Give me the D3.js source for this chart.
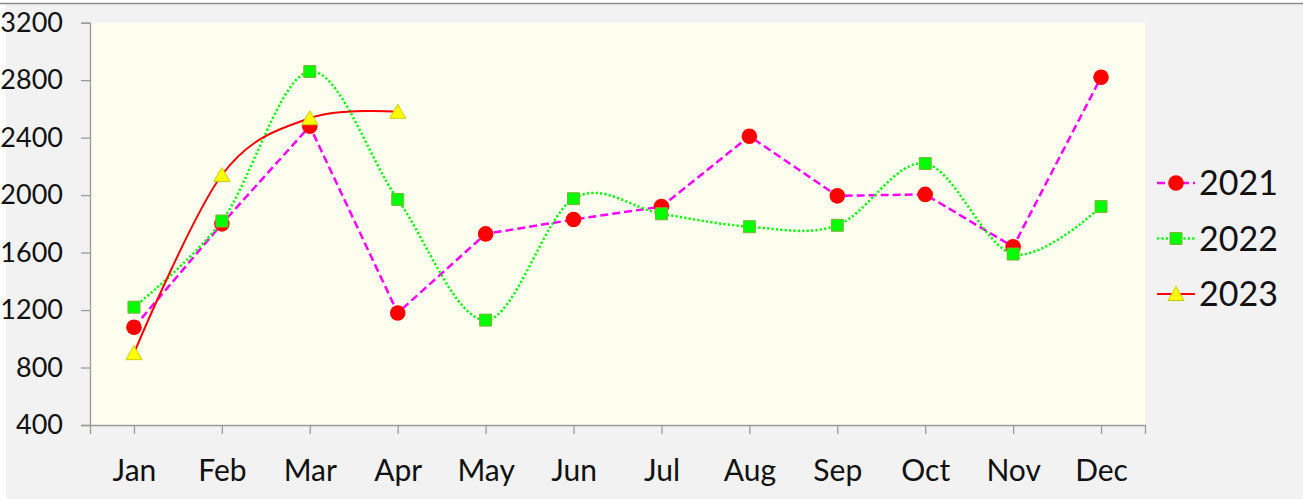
<!DOCTYPE html>
<html>
<head>
<meta charset="utf-8">
<script src="https://cdn.jsdelivr.net/npm/d3@7"></script>
<style>
  body { margin: 0; background: #fff; }
  text { font-family: Lato, "Open Sans", sans-serif; fill: #111; }
</style>
</head>
<body>
<svg id="chart" width="1303" height="499"></svg>
<script>
var months = ["Jan", "Feb", "Mar", "Apr", "May", "Jun", "Jul", "Aug", "Sep", "Oct", "Nov", "Dec"];
var yTicks = [400, 800, 1200, 1600, 2000, 2400, 2800, 3200];
var seriesNames = ["2021", "2022", "2023"];
var values2021 = [1080, 1800, 2480, 1180, 1730, 1830, 1920, 2410, 1995, 2005, 1640, 2820];
var values2022 = [1220, 1820, 2860, 1970, 1130, 1975, 1870, 1780, 1790, 2220, 1590, 1920];
var values2023 = [900, 2140, 2535, 2580];

var svg = d3.select("#chart"),
    width = +svg.attr("width"),
    height = +svg.attr("height");

var plot = {left: 90, right: 1145, top: 22.7, bottom: 425};

// series look, built from the arrays above
var series = [
  {name: seriesNames[0], values: values2021, line: "#ff00ff", dash: "8,4", width: 2.5, curve: d3.curveLinear, marker: "circle"},
  {name: seriesNames[1], values: values2022, line: "#00ff00", dash: "2.2,2.2", width: 2.5, curve: d3.curveCardinal.tension(0), marker: "square"},
  {name: seriesNames[2], values: values2023, line: "#ff0000", dash: null, width: 2, curve: d3.curveCardinal.tension(0), marker: "triangle"}
];

var x = d3.scalePoint()
    .domain(months)
    .range([plot.left, plot.right])
    .padding(0.5);

var y = d3.scaleLinear()
    .domain([400, 3200])
    .range([plot.bottom, plot.top]);

// background
svg.append("rect")
    .attr("x", 6).attr("y", 4)
    .attr("width", width - 6).attr("height", height - 4)
    .attr("fill", "#f2f2f2");
svg.append("line")
    .attr("x1", 0).attr("x2", width)
    .attr("y1", 3.5).attr("y2", 3.5)
    .attr("stroke", "#8c8c8c")
    .attr("stroke-width", 1.5);

svg.append("rect")
    .attr("x", plot.left).attr("y", plot.top)
    .attr("width", plot.right - plot.left)
    .attr("height", plot.bottom - plot.top)
    .attr("fill", "#fffff0");

// axes
var yAxis = svg.append("g")
    .attr("transform", "translate(" + plot.left + ",0)")
    .call(d3.axisLeft(y).tickValues(yTicks).tickFormat(d3.format("d")).tickSize(9).tickPadding(18));

var xAxis = svg.append("g")
    .attr("transform", "translate(0," + plot.bottom + ")")
    .call(d3.axisBottom(x).tickSize(9).tickSizeOuter(9));

yAxis.selectAll("text").style("font-size", "27px");
xAxis.selectAll("text")
    .style("font-size", "30px")
    .attr("y", 56)
    .attr("dy", 0);

svg.selectAll(".domain, .tick line")
    .attr("stroke", "#9a9a9a")
    .attr("stroke-width", 1.3);

function markerPath(shape) {
  if (shape == "square") return "M-6,-6H6V6H-6Z";
  if (shape == "triangle") return "M0,-7.5L8,6.5H-8Z";
  return null;
}

function drawMarker(g, shape) {
  if (shape == "circle") {
    g.append("circle")
      .attr("r", 7.8)
      .attr("fill", "#ff0000");
  } else if (shape == "square") {
    g.append("path")
      .attr("d", markerPath(shape))
      .attr("fill", "#00ff00")
      .attr("stroke", "#7fb23a")
      .attr("stroke-width", 1);
  } else {
    g.append("path")
      .attr("d", markerPath(shape))
      .attr("fill", "#ffff00")
      .attr("stroke", "#cccc00")
      .attr("stroke-width", 1);
  }
}

// lines
series.forEach(function(s) {
  var line = d3.line()
    .x(function(d, i) { return x(months[i]); })
    .y(function(d) { return y(d); })
    .curve(s.curve);

  svg.append("path")
    .datum(s.values)
    .attr("d", line)
    .attr("fill", "none")
    .attr("stroke", s.line)
    .attr("stroke-width", s.width)
    .attr("stroke-dasharray", s.dash);
});

// markers on top
series.forEach(function(s) {
  svg.append("g")
    .selectAll("g")
    .data(s.values)
    .enter()
    .append("g")
    .attr("transform", function(d, i) { return "translate(" + x(months[i]) + "," + y(d) + ")"; })
    .each(function() { drawMarker(d3.select(this), s.marker); });
});

// legend
var legendY = d3.scalePoint()
    .domain(seriesNames)
    .range([183, 294]);

var legend = svg.append("g")
    .selectAll("g")
    .data(series)
    .enter()
    .append("g")
    .attr("transform", function(d) { return "translate(1157," + legendY(d.name) + ")"; });

legend.append("line")
    .attr("x1", 0).attr("x2", 38)
    .attr("stroke", function(d) { return d.line; })
    .attr("stroke-width", function(d) { return d.width; })
    .attr("stroke-dasharray", function(d) { return d.dash; });

legend.append("g")
    .attr("transform", "translate(19,0)")
    .each(function(d) { drawMarker(d3.select(this), d.marker); });

legend.append("text")
    .attr("x", 42)
    .attr("dy", "0.36em")
    .style("font-size", "34px")
    .text(function(d) { return d.name; });
</script>
</body>
</html>
